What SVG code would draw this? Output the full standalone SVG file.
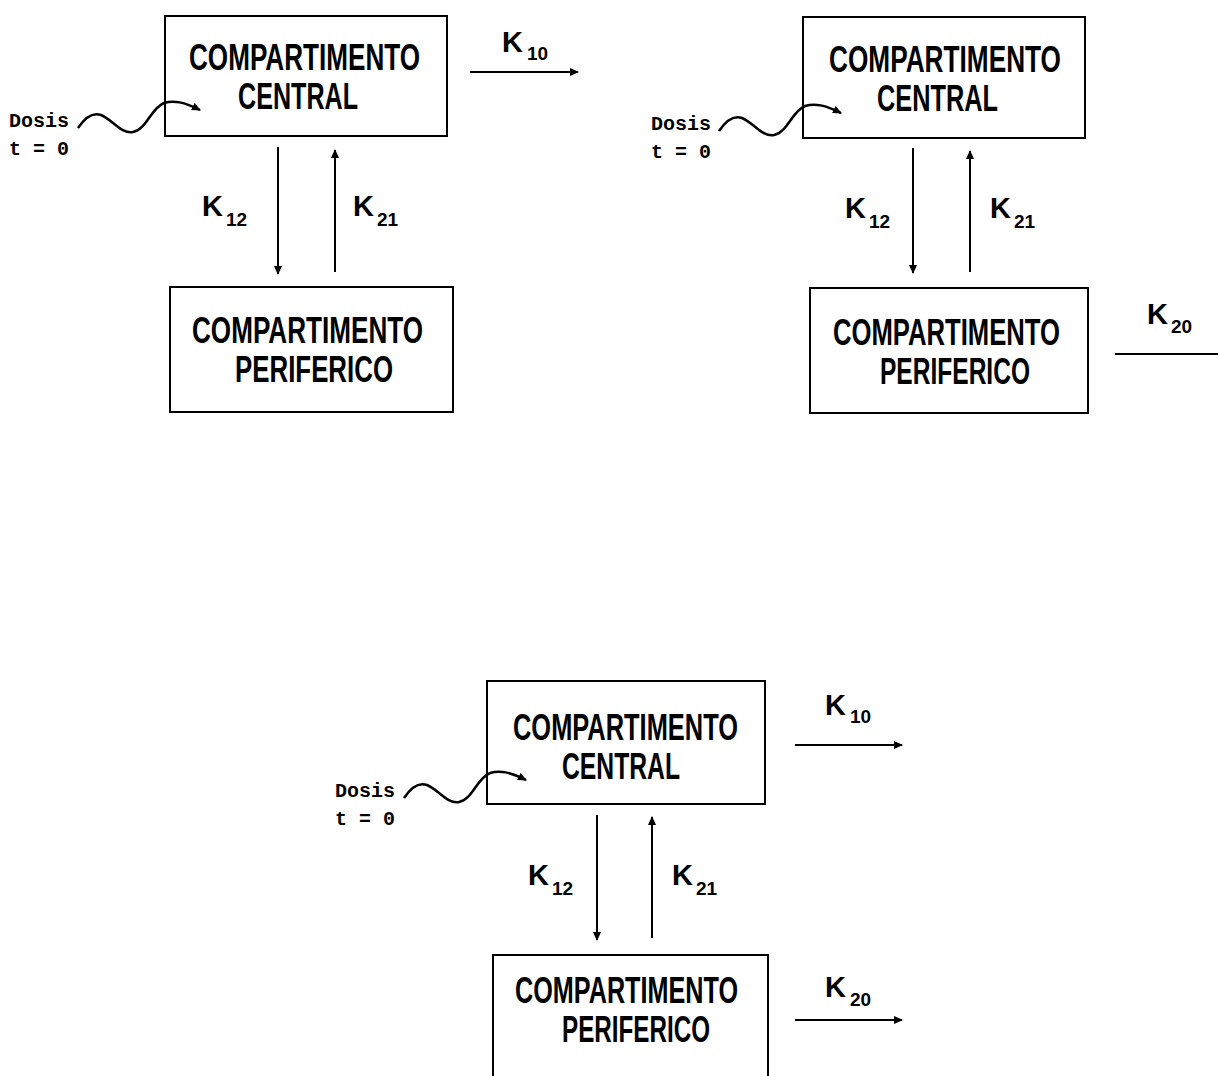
<svg xmlns="http://www.w3.org/2000/svg" width="1218" height="1076" viewBox="0 0 1218 1076">
<style>
.box{fill:#fff;stroke:#000;stroke-width:2}
.bt{font-family:"Liberation Sans",Arial,sans-serif;font-weight:bold;font-size:37px;fill:#000}
.k{font-family:"Liberation Sans",Arial,sans-serif;font-weight:bold;font-size:29px;fill:#000}
.ks{font-size:19px}
.d{font-family:"Liberation Mono","Courier New",monospace;font-weight:bold;font-size:20px;fill:#000}
.ln{stroke:#000;stroke-width:2;fill:none}
.wv{stroke:#000;stroke-width:2.5;fill:none}
</style>
<defs>
<marker id="ah" markerWidth="9" markerHeight="8" refX="8" refY="4" orient="auto" markerUnits="userSpaceOnUse"><path d="M0,0 L9,4 L0,8 z" fill="#000"/></marker>
</defs>
<rect width="1218" height="1076" fill="#fff"/>

<g id="d1-central">
<rect class="box" x="165" y="16" width="282" height="120"/>
<text class="bt" x="189" y="70" textLength="231" lengthAdjust="spacingAndGlyphs">COMPARTIMENTO</text>
<text class="bt" x="238" y="109" textLength="120" lengthAdjust="spacingAndGlyphs">CENTRAL</text>
</g>
<g id="d1-periferico">
<rect class="box" x="170" y="287" width="283" height="125"/>
<text class="bt" x="192" y="343" textLength="231" lengthAdjust="spacingAndGlyphs">COMPARTIMENTO</text>
<text class="bt" x="235" y="382" textLength="158" lengthAdjust="spacingAndGlyphs">PERIFERICO</text>
</g>
<g id="d1-dosis">
<text class="d" x="9" y="127">Dosis</text>
<text class="d" x="9" y="155">t = 0</text>
</g>

<g id="d2-central">
<rect class="box" x="803" y="17" width="282" height="121"/>
<text class="bt" x="829" y="72" textLength="232" lengthAdjust="spacingAndGlyphs">COMPARTIMENTO</text>
<text class="bt" x="877" y="111" textLength="121" lengthAdjust="spacingAndGlyphs">CENTRAL</text>
</g>
<g id="d2-periferico">
<rect class="box" x="810" y="288" width="278" height="125"/>
<text class="bt" x="833" y="345" textLength="227" lengthAdjust="spacingAndGlyphs">COMPARTIMENTO</text>
<text class="bt" x="880" y="384" textLength="150" lengthAdjust="spacingAndGlyphs">PERIFERICO</text>
</g>
<g id="d2-dosis">
<text class="d" x="651" y="130">Dosis</text>
<text class="d" x="651" y="158">t = 0</text>
</g>

<g id="d3-central">
<rect class="box" x="487" y="681" width="278" height="123"/>
<text class="bt" x="513" y="740" textLength="225" lengthAdjust="spacingAndGlyphs">COMPARTIMENTO</text>
<text class="bt" x="562" y="779" textLength="118" lengthAdjust="spacingAndGlyphs">CENTRAL</text>
</g>
<g id="d3-periferico">
<rect class="box" x="493" y="955" width="275" height="140"/>
<text class="bt" x="515" y="1003" textLength="223" lengthAdjust="spacingAndGlyphs">COMPARTIMENTO</text>
<text class="bt" x="562" y="1042" textLength="148" lengthAdjust="spacingAndGlyphs">PERIFERICO</text>
</g>
<g id="d3-dosis">
<text class="d" x="335" y="797">Dosis</text>
<text class="d" x="335" y="825">t = 0</text>
</g>

<g id="labels">
<text class="k" x="502" y="52">K<tspan class="ks" dx="4" dy="8">10</tspan></text>
<text class="k" x="202" y="216">K<tspan class="ks" dx="3" dy="10">12</tspan></text>
<text class="k" x="353" y="216">K<tspan class="ks" dx="3" dy="10">21</tspan></text>

<text class="k" x="845" y="218">K<tspan class="ks" dx="3" dy="10">12</tspan></text>
<text class="k" x="990" y="218">K<tspan class="ks" dx="3" dy="10">21</tspan></text>
<text class="k" x="1147" y="324">K<tspan class="ks" dx="3" dy="9">20</tspan></text>

<text class="k" x="528" y="885">K<tspan class="ks" dx="3" dy="10">12</tspan></text>
<text class="k" x="672" y="885">K<tspan class="ks" dx="3" dy="10">21</tspan></text>
<text class="k" x="825" y="715">K<tspan class="ks" dx="4" dy="8">10</tspan></text>
<text class="k" x="825" y="997">K<tspan class="ks" dx="4" dy="9">20</tspan></text>
</g>

<g id="connectors">
<line class="ln" x1="470" y1="72" x2="578" y2="72" marker-end="url(#ah)"/>
<line class="ln" x1="278" y1="147" x2="278" y2="274" marker-end="url(#ah)"/>
<line class="ln" x1="335" y1="272" x2="335" y2="150" marker-end="url(#ah)"/>
<path class="wv" d="M78,128 C86,116 93,112 101,115 C113,120 121,134 133,132 C146,130 151,108 164,103 C174,100 184,102 200,110" marker-end="url(#ah)"/>

<line class="ln" x1="913" y1="148" x2="913" y2="273" marker-end="url(#ah)"/>
<line class="ln" x1="970" y1="272" x2="970" y2="151" marker-end="url(#ah)"/>
<line class="ln" x1="1115" y1="354" x2="1218" y2="354"/>
<path class="wv" d="M719,131 C727,119 734,115 742,118 C754,123 762,137 774,135 C787,133 792,111 805,106 C815,103 825,105 841,113" marker-end="url(#ah)"/>

<line class="ln" x1="597" y1="815" x2="597" y2="940" marker-end="url(#ah)"/>
<line class="ln" x1="652" y1="938" x2="652" y2="817" marker-end="url(#ah)"/>
<line class="ln" x1="795" y1="745" x2="902" y2="745" marker-end="url(#ah)"/>
<line class="ln" x1="795" y1="1020" x2="902" y2="1020" marker-end="url(#ah)"/>
<path class="wv" d="M404,798 C412,786 419,782 427,785 C439,790 447,804 459,802 C472,800 477,778 490,773 C500,770 510,772 526,780" marker-end="url(#ah)"/>
</g>
</svg>
